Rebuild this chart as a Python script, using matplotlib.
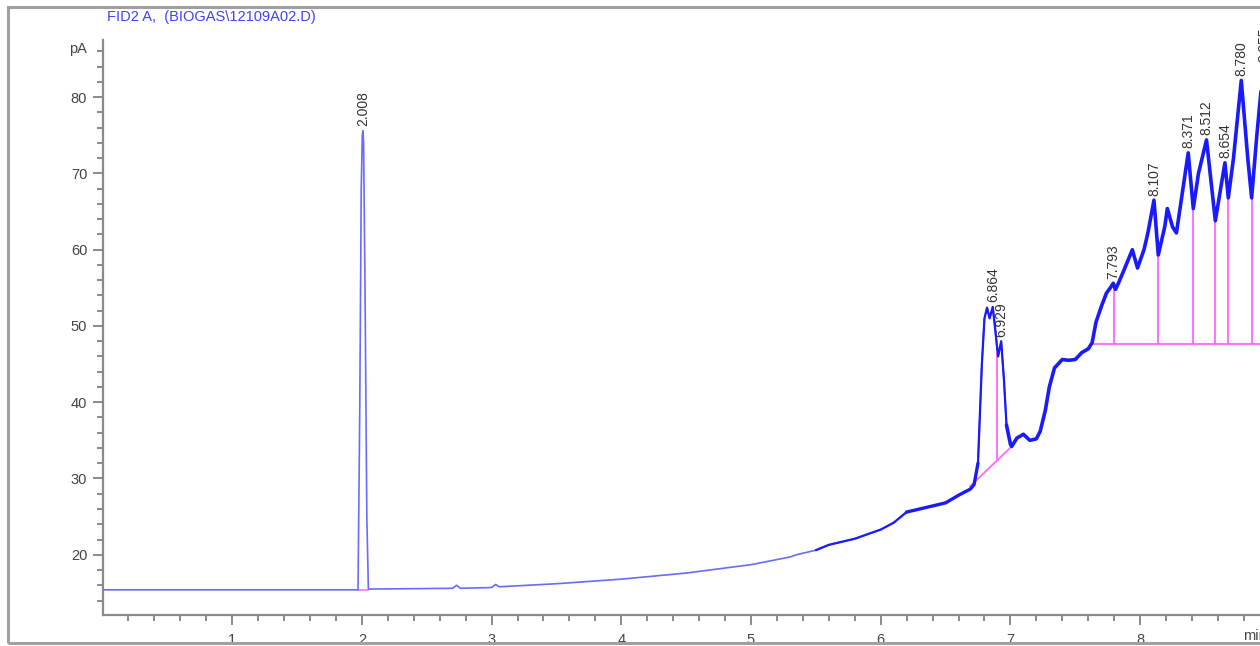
import matplotlib
matplotlib.use("Agg")
import matplotlib.pyplot as plt
from matplotlib.patches import Rectangle

plt.rcParams['font.family'] = ['Liberation Sans', 'DejaVu Sans']

# ---- data ----
time_min = [0.0, 1.0, 1.97, 1.983, 1.995, 2.003, 2.008, 2.013, 2.024, 2.038, 2.05,
            2.7, 2.73, 2.76, 3.0, 3.03, 3.06, 3.5, 4.0, 4.5, 5.0, 5.3, 5.35, 5.5, 5.6,
            5.8, 6.0, 6.1, 6.2, 6.3, 6.4, 6.5, 6.6, 6.69, 6.72, 6.75, 6.78, 6.80, 6.82,
            6.84, 6.864, 6.88, 6.905, 6.929, 6.95, 6.97, 7.0, 7.01, 7.05, 7.1, 7.15,
            7.2, 7.23, 7.27, 7.3, 7.34, 7.4, 7.45, 7.5, 7.55, 7.6, 7.63, 7.66, 7.7,
            7.74, 7.77, 7.793, 7.81, 7.83, 7.88, 7.94, 7.98, 8.03, 8.06, 8.107, 8.14,
            8.19, 8.21, 8.25, 8.28, 8.371, 8.41, 8.45, 8.512, 8.58, 8.654, 8.68, 8.72,
            8.78, 8.83, 8.86, 8.9, 8.95, 9.0]
signal_pA = [15.4, 15.4, 15.4, 38.0, 68.0, 75.0, 75.6, 74.0, 55.0, 25.0, 15.5,
             15.6, 16.0, 15.6, 15.7, 16.1, 15.8, 16.2, 16.8, 17.6, 18.7, 19.7, 20.0, 20.6, 21.3,
             22.1, 23.3, 24.2, 25.6, 26.0, 26.4, 26.8, 27.8, 28.6, 29.2, 32.0, 45.0, 51.0, 52.4,
             51.0, 52.5, 50.0, 46.0, 48.0, 43.0, 37.0, 34.5, 34.2, 35.3, 35.8, 35.0,
             35.2, 36.2, 39.0, 42.0, 44.5, 45.6, 45.5, 45.6, 46.5, 47.0, 47.8, 50.5, 52.5,
             54.3, 55.0, 55.6, 54.8, 55.5, 57.5, 60.0, 57.6, 60.0, 62.2, 66.5, 59.3,
             63.0, 65.4, 63.0, 62.2, 72.7, 65.4, 70.0, 74.4, 63.8, 71.4, 66.8, 72.0,
             82.2, 72.0, 66.8, 75.0, 84.0, 80.0]

peak_labels = ['2.008', '6.864', '6.929', '7.793', '8.107', '8.371', '8.512',
               '8.654', '8.780', '8.955']
peak_times = [2.008, 6.864, 6.929, 7.793, 8.107, 8.371, 8.512, 8.654, 8.780, 8.955]
peak_heights = [75.6, 52.5, 48.0, 55.6, 66.5, 72.7, 74.4, 71.4, 82.2, 84.0]

# integration baselines
base1_t = [6.69, 7.01]
base1_v = [29.0, 34.2]
drop1_t = [6.90]
drop1_top = [46.3]
base2_t = [7.63, 9.0]
base2_v = [47.7, 47.7]
drop2_t = [7.80, 8.14, 8.41, 8.58, 8.68, 8.86]
drop2_top = [54.8, 59.6, 65.4, 63.8, 66.8, 66.8]

title_text = 'FID2 A,  (BIOGAS\\12109A02.D)'

# ---- figure ----
W, H = 1260, 646
fig = plt.figure(figsize=(W / 100, H / 100), dpi=100)
fig.patch.set_facecolor('white')

fig.add_artist(Rectangle((8 / W, 3 / H), 1.2, 1 - 10 / H, transform=fig.transFigure,
                         fill=False, edgecolor='#a0a0a0', linewidth=2.2))

ax_l, ax_b, ax_t = 102.5 / W, (H - 615) / H, (H - 40) / H
ax = fig.add_axes([ax_l, ax_b, 1.0 - ax_l, ax_t - ax_b])
ax.set_xlim(0, (W - 102.5) / 129.7)
ax.set_ylim(12.1, 87.5)

for s in ['top', 'right']:
    ax.spines[s].set_visible(False)
for s in ['left', 'bottom']:
    ax.spines[s].set_color('#8a8a8a')
    ax.spines[s].set_linewidth(1.6)

ax.set_xticks([1, 2, 3, 4, 5, 6, 7, 8])
ax.set_xticks([i * 0.2 for i in range(1, 45)], minor=True)
ax.set_yticks([20, 30, 40, 50, 60, 70, 80])
ax.set_yticks([i for i in range(14, 88, 2)], minor=True)
ax.tick_params(axis='both', which='major', length=7, width=1.2, color='#777777',
               labelsize=10.5, labelcolor='#444444')
ax.tick_params(axis='both', which='minor', length=4, width=1.2, color='#777777')
ax.tick_params(axis='x', pad=6)
ax.tick_params(axis='y', pad=4)

# signal: thin trace everywhere, heavier (noisy-looking) trace on the late part
ax.plot(time_min, signal_pA, color='#6a6aff', linewidth=1.2, zorder=3)


def segment(t0, t1):
    idx = [i for i, t in enumerate(time_min) if t0 <= t <= t1]
    return [time_min[i] for i in idx], [signal_pA[i] for i in idx]


for (t0, t1, lw) in [(5.5, 6.2, 1.6), (6.2, 6.75, 2.4), (6.75, 6.97, 1.6), (6.97, 9.0, 2.6)]:
    xs, ys = segment(t0, t1)
    ax.plot(xs, ys, color='#1a1aff', linewidth=lw, zorder=4, solid_joinstyle='round',
            solid_capstyle='round')

# integration baselines
pink = '#ff70ff'
ax.plot(base1_t, base1_v, color=pink, linewidth=1.4, zorder=2)
for t, top in zip(drop1_t, drop1_top):
    y0 = base1_v[0] + (t - base1_t[0]) / (base1_t[1] - base1_t[0]) * (base1_v[1] - base1_v[0])
    ax.plot([t, t], [y0, top], color=pink, linewidth=1.4, zorder=2)
ax.plot(base2_t, base2_v, color=pink, linewidth=1.4, zorder=2)
for t, top in zip(drop2_t, drop2_top):
    ax.plot([t, t], [base2_v[0], top], color=pink, linewidth=1.4, zorder=2)
ax.plot([1.975, 2.05], [15.4, 15.4], color=pink, linewidth=1.2, zorder=2)

# peak labels
for lab, t, h in zip(peak_labels, peak_times, peak_heights):
    ax.text(t, h + 0.6, lab, rotation=90, ha='center', va='bottom',
            fontsize=10, color='#333333', zorder=5, clip_on=False)

ax.text(-0.12, 86.3, 'pA', ha='right', va='center', fontsize=10.5, color='#444444')
fig.text(1243 / W, 1 - 636 / H, 'min', ha='left', va='center', fontsize=10.5, color='#444444')

fig.text(107 / W, 1 - 17 / H, title_text, ha='left', va='center', fontsize=10.5,
         color='#4040ff')

fig.savefig('out.png', dpi=100)
